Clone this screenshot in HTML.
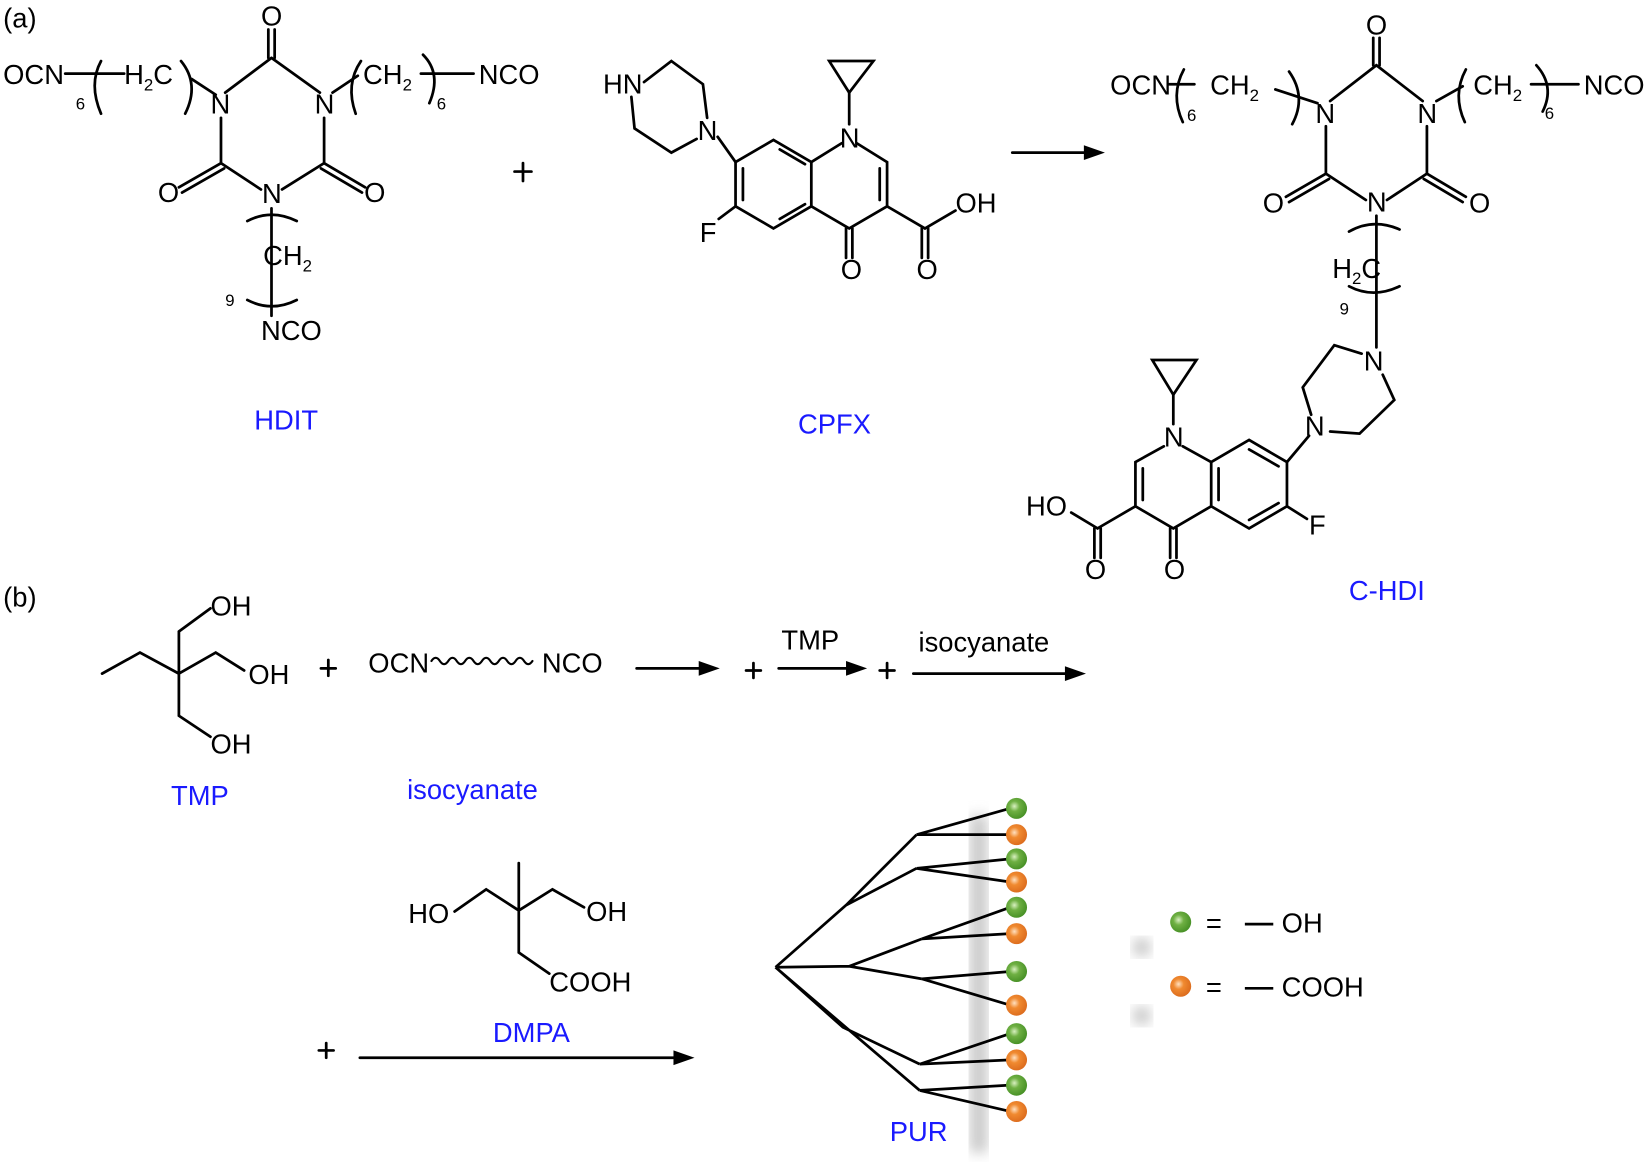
<!DOCTYPE html>
<html><head><meta charset="utf-8"><style>
html,body{margin:0;padding:0;background:#fff;}
svg{display:block;}
text{font-family:"Liberation Sans",Arial,sans-serif;fill:#000;}
.a{font-size:26px;}
.s{font-size:16px;}
.b{fill:#1a1aff;font-size:26px;}
</style></head><body>
<svg width="1650" height="1162" viewBox="0 0 1568 1104" preserveAspectRatio="none">
<defs>
<filter id="bl"><feGaussianBlur stdDeviation="6"/></filter>
<radialGradient id="gg" cx="0.4" cy="0.4" r="0.7"><stop offset="0" stop-color="#d8f0c0"/><stop offset="0.35" stop-color="#6fb043"/><stop offset="1" stop-color="#3f8a20"/></radialGradient>
<radialGradient id="og" cx="0.4" cy="0.4" r="0.7"><stop offset="0" stop-color="#ffe0c0"/><stop offset="0.35" stop-color="#f08a30"/><stop offset="1" stop-color="#d8661a"/></radialGradient>
</defs>
<g stroke="#000" stroke-width="2.6" fill="none" stroke-linecap="round">
<!-- HDIT -->
<line x1="62" y1="70" x2="118" y2="70"/>
<path d="M96 58 Q84 80 96 108"/>
<line x1="182" y1="75" x2="205" y2="90"/>
<path d="M172 58 Q190 80 176 108"/>
<path d="M258 55 L214 88 M210 112 L210 155 L248 180 M268 180 L308 155 L308 112 M304 88 L258 55"/>
<line x1="255" y1="55" x2="255" y2="28"/><line x1="261" y1="55" x2="261" y2="28"/>
<line x1="210" y1="155" x2="170" y2="178"/><line x1="213" y1="160" x2="173" y2="183"/>
<line x1="308" y1="155" x2="347" y2="178"/><line x1="305" y1="160" x2="344" y2="183"/>
<line x1="316" y1="88" x2="340" y2="72"/>
<path d="M343 58 Q328 80 338 108"/>
<line x1="400" y1="70" x2="450" y2="70"/>
<path d="M402 52 Q420 70 408 98"/>
<line x1="258" y1="198" x2="258" y2="300"/>
<path d="M235 210 Q258 198 282 210"/>
<path d="M235 285 Q258 297 282 285"/>
<line x1="497" y1="155" x2="497" y2="172"/><line x1="489" y1="163" x2="505" y2="163"/>
<!-- CPFX -->
<path d="M612 78 L638 58 L668 80 L672 112 M662 132 L638 145 L603 122 L600 92"/>
<line x1="682" y1="130" x2="699" y2="154"/>
<path d="M735 133 L771 154 L771 196 L735 217 L699 196 L699 154 Z"/>
<line x1="741" y1="142" x2="765" y2="156"/><line x1="741" y1="208" x2="765" y2="194"/><line x1="706" y1="160" x2="706" y2="190"/>
<path d="M771 154 L800 136 M814 136 L843 154 L843 196 L807 217 L771 196"/>
<line x1="836" y1="160" x2="836" y2="190"/>
<line x1="804" y1="217" x2="804" y2="245"/><line x1="810" y1="217" x2="810" y2="245"/>
<line x1="843" y1="196" x2="879" y2="217"/>
<line x1="876" y1="217" x2="876" y2="245"/><line x1="882" y1="217" x2="882" y2="245"/>
<line x1="879" y1="217" x2="908" y2="200"/>
<line x1="699" y1="196" x2="683" y2="208"/>
<line x1="807" y1="118" x2="807" y2="88"/>
<path d="M807 88 L788 58 L830 58 Z"/>
<!-- arrow -->
<line x1="962" y1="145" x2="1040" y2="145"/>
<!-- C-HDI -->
<line x1="1110" y1="80" x2="1135" y2="80"/>
<path d="M1125 66 Q1112 90 1124 116"/>
<line x1="1212" y1="85" x2="1252" y2="98"/>
<path d="M1225 68 Q1242 92 1228 118"/>
<path d="M1308 62 L1264 96 M1260 120 L1260 165 L1298 190 M1318 190 L1356 165 L1356 120 M1352 96 L1308 62"/>
<line x1="1305" y1="62" x2="1305" y2="36"/><line x1="1311" y1="62" x2="1311" y2="36"/>
<line x1="1260" y1="165" x2="1222" y2="187"/><line x1="1263" y1="170" x2="1225" y2="192"/>
<line x1="1356" y1="165" x2="1393" y2="187"/><line x1="1353" y1="170" x2="1390" y2="192"/>
<line x1="1365" y1="96" x2="1390" y2="82"/>
<path d="M1393 66 Q1380 90 1392 116"/>
<line x1="1455" y1="80" x2="1500" y2="80"/>
<path d="M1460 62 Q1478 82 1466 106"/>
<line x1="1308" y1="205" x2="1308" y2="330"/>
<path d="M1282 220 Q1305 207 1330 218"/>
<path d="M1282 272 Q1305 284 1330 272"/>
<path d="M1294 336 L1268 328 L1238 368 L1246 394 M1264 410 L1292 412 L1325 380 L1314 356"/>
<line x1="1244" y1="414" x2="1223" y2="439"/>
<path d="M1187 418 L1223 439 L1223 481 L1187 502 L1151 481 L1151 439 Z"/>
<line x1="1187" y1="427" x2="1215" y2="443"/><line x1="1187" y1="494" x2="1215" y2="478"/><line x1="1158" y1="445" x2="1158" y2="475"/>
<path d="M1151 439 L1124 424 M1106 424 L1079 439 L1079 481 L1115 502 L1151 481"/>
<line x1="1086" y1="445" x2="1086" y2="475"/>
<line x1="1112" y1="502" x2="1112" y2="530"/><line x1="1118" y1="502" x2="1118" y2="530"/>
<line x1="1079" y1="481" x2="1043" y2="502"/>
<line x1="1040" y1="502" x2="1040" y2="530"/><line x1="1046" y1="502" x2="1046" y2="530"/>
<line x1="1043" y1="502" x2="1018" y2="487"/>
<line x1="1223" y1="481" x2="1242" y2="493"/>
<line x1="1115" y1="403" x2="1115" y2="375"/>
<path d="M1115 375 L1095 342 L1137 342 Z"/>
<!-- TMP -->
<path d="M97 640 L133 620 L170 640 M170 600 L170 680 M170 600 L200 578 M170 640 L205 620 L232 637 M170 680 L200 700"/>
<line x1="312" y1="627" x2="312" y2="642"/><line x1="305" y1="635" x2="319" y2="635"/>
<path d="M410 628 q4 -6 8 0 t8 0 t8 0 t8 0 t8 0 t8 0 t8 0 t8 0 t8 0 t8 0 t8 0 t8 0" stroke-width="2"/>
<line x1="605" y1="635" x2="672" y2="635"/>
<line x1="716" y1="630" x2="716" y2="644"/><line x1="709" y1="637" x2="723" y2="637"/>
<line x1="740" y1="635" x2="812" y2="635"/>
<line x1="843" y1="630" x2="843" y2="644"/><line x1="836" y1="637" x2="850" y2="637"/>
<line x1="868" y1="640" x2="1020" y2="640"/>
<!-- DMPA -->
<path d="M432 866 L462 845 L493 865 L525 845 L555 862 M493 820 L493 905 L522 925"/>
<line x1="310" y1="991" x2="310" y2="1005"/><line x1="303" y1="998" x2="317" y2="998"/>
<line x1="342" y1="1005" x2="648" y2="1005"/>
</g>
<g fill="#000">
<path d="M1050 145 L1030 138 L1030 152 Z"/>
<path d="M684 635 L664 628 L664 642 Z"/>
<path d="M824 635 L804 628 L804 642 Z"/>
<path d="M1032 640 L1012 633 L1012 647 Z"/>
<path d="M660 1005 L640 998 L640 1012 Z"/>
</g>
<!-- texts -->
<text x="3" y="26" class="a">(a)</text>
<text x="3" y="80" class="a">OCN</text>
<text x="72" y="104" class="s">6</text>
<text x="118" y="80" class="a">H<tspan class="s" dy="6">2</tspan><tspan dy="-6">C</tspan></text>
<text x="248" y="24" class="a">O</text>
<text x="200" y="108" class="a">N</text>
<text x="299" y="108" class="a">N</text>
<text x="150" y="192" class="a">O</text>
<text x="346" y="192" class="a">O</text>
<text x="249" y="193" class="a">N</text>
<text x="345" y="80" class="a">CH<tspan class="s" dy="6">2</tspan></text>
<text x="415" y="104" class="s">6</text>
<text x="455" y="80" class="a">NCO</text>
<text x="250" y="252" class="a">CH<tspan class="s" dy="6">2</tspan></text>
<text x="0" y="0" class="s" transform="translate(223,280) rotate(180)">6</text>
<text x="248" y="323" class="a">NCO</text>
<text x="272" y="408" class="b" text-anchor="middle">HDIT</text>
<text x="573" y="89" class="a">HN</text>
<text x="663" y="133" class="a">N</text>
<text x="798" y="140" class="a">N</text>
<text x="665" y="230" class="a">F</text>
<text x="799" y="265" class="a">O</text>
<text x="871" y="265" class="a">O</text>
<text x="908" y="202" class="a">OH</text>
<text x="793" y="412" class="b" text-anchor="middle">CPFX</text>
<text x="1055" y="90" class="a">OCN</text>
<text x="1128" y="115" class="s">6</text>
<text x="1150" y="90" class="a">CH<tspan class="s" dy="6">2</tspan></text>
<text x="1298" y="33" class="a">O</text>
<text x="1250" y="117" class="a">N</text>
<text x="1347" y="117" class="a">N</text>
<text x="1200" y="202" class="a">O</text>
<text x="1396" y="202" class="a">O</text>
<text x="1299" y="201" class="a">N</text>
<text x="1400" y="90" class="a">CH<tspan class="s" dy="6">2</tspan></text>
<text x="1468" y="113" class="s">6</text>
<text x="1505" y="90" class="a">NCO</text>
<text x="1266" y="264" class="a">H<tspan class="s" dy="6">2</tspan><tspan dy="-6">C</tspan></text>
<text x="0" y="0" class="s" transform="translate(1282,288) rotate(180)">6</text>
<text x="1296" y="352" class="a">N</text>
<text x="1240" y="414" class="a">N</text>
<text x="1106" y="424" class="a">N</text>
<text x="1244" y="508" class="a">F</text>
<text x="1106" y="550" class="a">O</text>
<text x="1031" y="550" class="a">O</text>
<text x="975" y="490" class="a">HO</text>
<text x="1318" y="570" class="b" text-anchor="middle">C-HDI</text>
<text x="3" y="576" class="a">(b)</text>
<text x="200" y="585" class="a">OH</text>
<text x="236" y="650" class="a">OH</text>
<text x="200" y="716" class="a">OH</text>
<text x="190" y="765" class="b" text-anchor="middle">TMP</text>
<text x="350" y="639" class="a">OCN</text>
<text x="515" y="639" class="a">NCO</text>
<text x="449" y="759" class="b" text-anchor="middle">isocyanate</text>
<text x="770" y="617" class="a" text-anchor="middle">TMP</text>
<text x="935" y="619" class="a" text-anchor="middle">isocyanate</text>
<text x="388" y="877" class="a">HO</text>
<text x="557" y="875" class="a">OH</text>
<text x="522" y="942" class="a">COOH</text>
<text x="505" y="990" class="b" text-anchor="middle">DMPA</text>
<!-- PUR -->
<rect x="922" y="775" width="16" height="320" fill="#c8c8c8" filter="url(#bl)"/>
<circle cx="1085" cy="900" r="9" fill="#c8c8c8" filter="url(#bl)"/>
<circle cx="1085" cy="965" r="9" fill="#c8c8c8" filter="url(#bl)"/>
<g stroke="#000" stroke-width="2.6" fill="none">
<path d="M737 919 L804 860 L871 793 M804 860 L871 825 M737 919 L807 918 L876 892 M807 918 L876 930 M737 919 L801 976 L874 1011 M737 919 L874 1036"/>
<path d="M871 793 L960 768 M871 793 L960 793 M871 825 L960 816 M871 825 L960 838 M876 892 L960 862 M876 892 L960 887 M876 930 L960 923 M876 930 L960 955 M874 1011 L960 982 M874 1011 L960 1007 M874 1036 L960 1031 M874 1036 L960 1056"/>
</g>
<g>
<circle cx="966" cy="768" r="10" fill="url(#gg)"/>
<circle cx="966" cy="793" r="10" fill="url(#og)"/>
<circle cx="966" cy="816" r="10" fill="url(#gg)"/>
<circle cx="966" cy="838" r="10" fill="url(#og)"/>
<circle cx="966" cy="862" r="10" fill="url(#gg)"/>
<circle cx="966" cy="887" r="10" fill="url(#og)"/>
<circle cx="966" cy="923" r="10" fill="url(#gg)"/>
<circle cx="966" cy="955" r="10" fill="url(#og)"/>
<circle cx="966" cy="982" r="10" fill="url(#gg)"/>
<circle cx="966" cy="1007" r="10" fill="url(#og)"/>
<circle cx="966" cy="1031" r="10" fill="url(#gg)"/>
<circle cx="966" cy="1056" r="10" fill="url(#og)"/>
<circle cx="1122" cy="876" r="10" fill="url(#gg)"/>
<circle cx="1122" cy="937" r="10" fill="url(#og)"/>
</g>
<text x="873" y="1084" class="b" text-anchor="middle">PUR</text>
<text x="1146" y="886" class="a">=</text>
<line x1="1183" y1="878" x2="1210" y2="878" stroke="#000" stroke-width="2.5"/>
<text x="1218" y="886" class="a">OH</text>
<text x="1146" y="947" class="a">=</text>
<line x1="1183" y1="939" x2="1210" y2="939" stroke="#000" stroke-width="2.5"/>
<text x="1218" y="947" class="a">COOH</text>
</svg>
</body></html>
